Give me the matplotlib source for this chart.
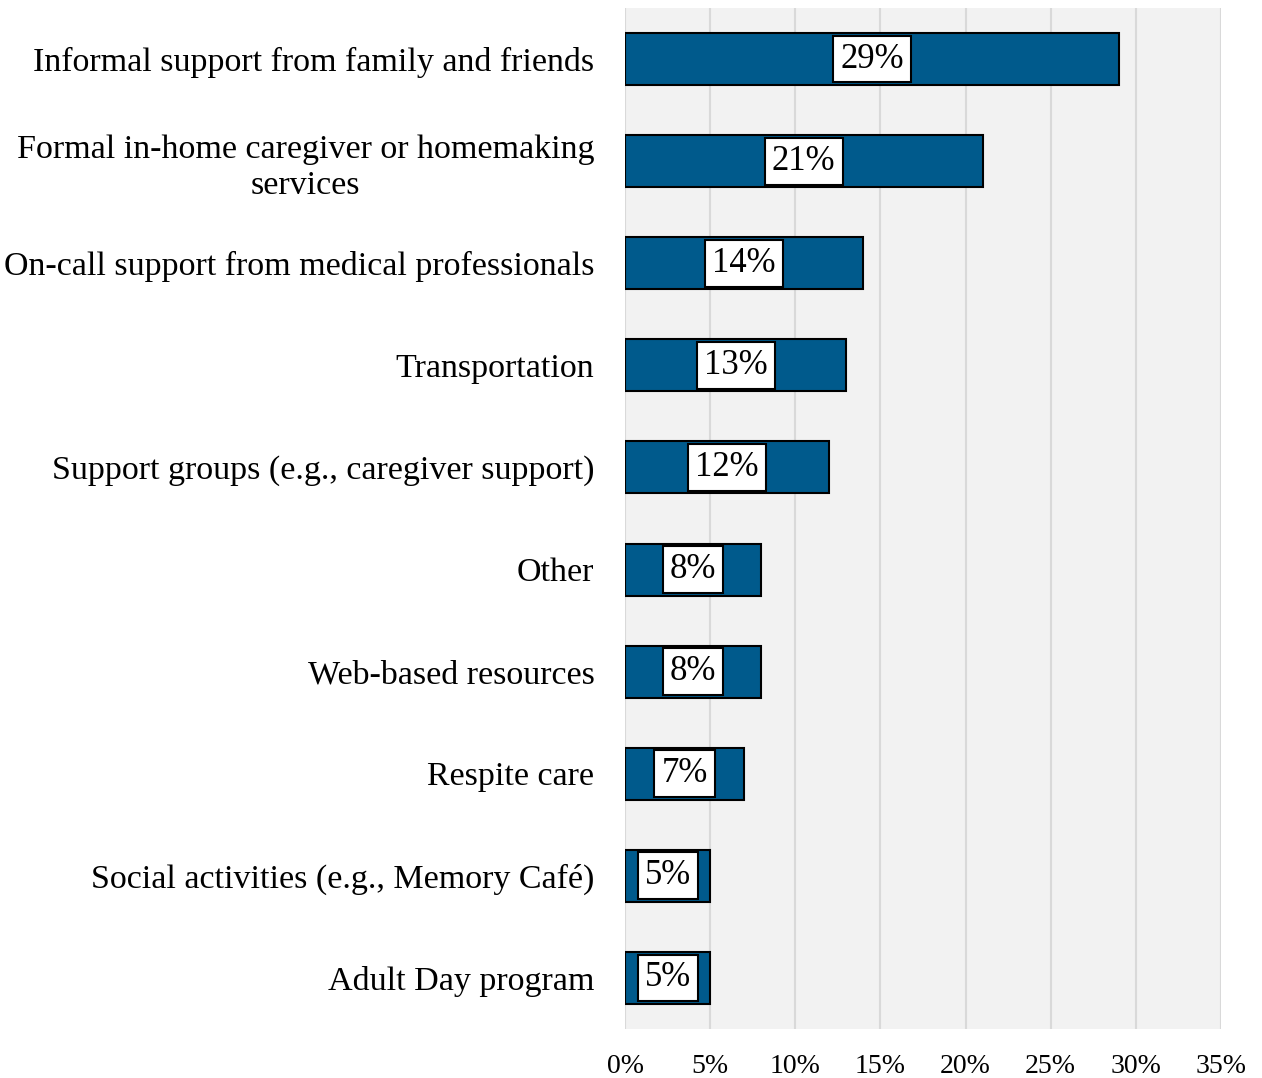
import matplotlib
matplotlib.use("Agg")
import matplotlib.pyplot as plt

categories = [
    "Informal support from family and friends",
    "Formal in-home caregiver or homemaking\nservices",
    "On-call support from medical professionals",
    "Transportation",
    "Support groups (e.g., caregiver support)",
    "Other",
    "Web-based resources",
    "Respite care",
    "Social activities (e.g., Memory Café)",
    "Adult Day program",
]
values = [29, 21, 14, 13, 12, 8, 8, 7, 5, 5]
xticks = [0, 5, 10, 15, 20, 25, 30, 35]
xtick_labels = ["0%", "5%", "10%", "15%", "20%", "25%", "30%", "35%"]

plt.rcParams["font.family"] = ["Liberation Serif", "DejaVu Serif"]

W, H = 1262, 1078
fig = plt.figure(figsize=(W / 100, H / 100), dpi=100)
ax = fig.add_axes([625 / W, 1 - 1029 / H, (1221 - 625) / W, (1029 - 8) / H])
ax.set_facecolor("#f2f2f2")

y = list(range(len(categories)))
ax.barh(y, values, height=0.51, color="#005a8c", edgecolor="black", linewidth=1.5, zorder=3)

# value labels in white boxes at the middle of each bar
for yi, v in zip(y, values):
    ax.text(v / 2, yi, f"{v}%", ha="center", va="center", fontsize=25, zorder=4,
            bbox=dict(boxstyle="square,pad=0.2", facecolor="white", edgecolor="black", linewidth=1.5))

ax.set_xlim(0, 35)
ax.set_ylim(len(categories) - 0.5, -0.5)
ax.set_xticks(xticks)
ax.set_xticklabels(xtick_labels, fontsize=20)
ax.set_yticks(y)
ax.set_yticklabels(categories, fontsize=24.5, linespacing=1.25)
for lab in ax.get_yticklabels():
    lab.set_multialignment("center")
ax.tick_params(axis="y", length=0, pad=22)
ax.tick_params(axis="x", length=0, pad=18)
ax.xaxis.grid(True, color="#d9d9d9", linewidth=1.5, zorder=0)
ax.set_axisbelow(True)
for s in ax.spines.values():
    s.set_visible(False)

fig.savefig("out.png", dpi=100, facecolor="white")
